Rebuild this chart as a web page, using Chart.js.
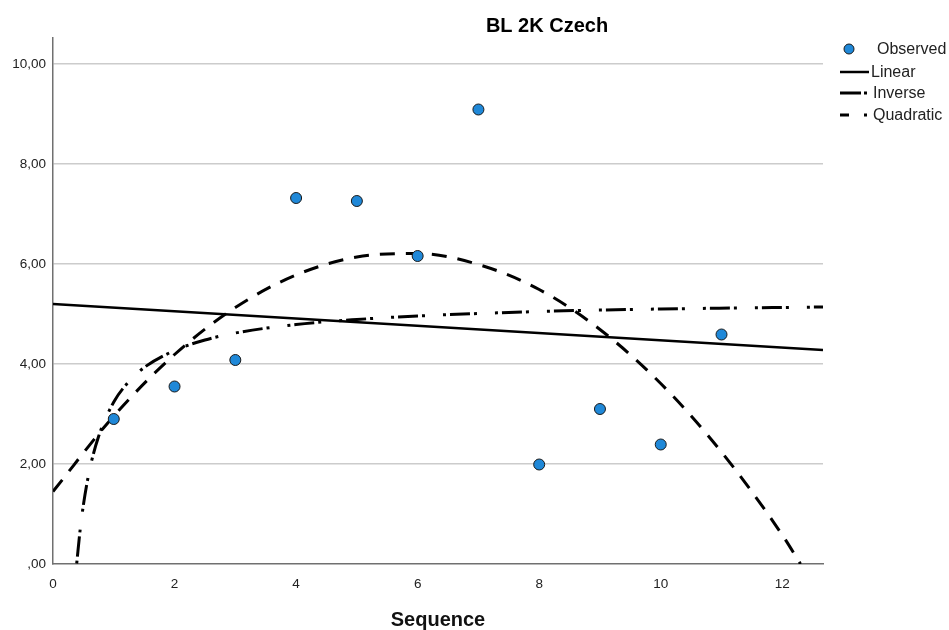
<!DOCTYPE html>
<html>
<head>
<meta charset="utf-8">
<script src="https://cdn.jsdelivr.net/npm/chart.js@4.4.1/dist/chart.umd.min.js"></script>
<style>
  html, body { margin: 0; padding: 0; background: #fff; }
  #wrap { width: 949px; height: 630px; position: relative; }
</style>
</head>
<body>
<div id="wrap"><canvas id="chart"></canvas></div>
<script>
const seqX = [1, 2, 3, 4, 5, 6, 7, 8, 9, 10, 11];
const observedY = [2.90, 3.55, 4.08, 7.32, 7.26, 6.16, 9.09, 1.99, 3.10, 2.39, 4.59];

// fitted curves
const linearX = [0, 12.67];
const linearY = [5.20, 4.28];

const inverseX = [0.39, 0.45, 0.5, 0.6, 0.75, 1, 1.25, 1.5, 2, 2.5, 3, 4, 5, 6, 8, 10, 12.67];
const inverseY = [0.01, 0.72, 1.18, 1.87, 2.55, 3.24, 3.65, 3.93, 4.27, 4.48, 4.62, 4.79, 4.89, 4.96, 5.05, 5.10, 5.14];

const quadX = [0, 1, 2, 3, 4, 5, 6, 7, 8, 9, 10, 11, 12, 12.3];
const quadY = [1.45, 2.96, 4.19, 5.13, 5.78, 6.14, 6.21, 5.99, 5.49, 4.69, 3.61, 2.24, 0.58, 0.0];

// axis ticks
const yTicks = [0, 2, 4, 6, 8, 10];
const yTickLabels = [',00', '2,00', '4,00', '6,00', '8,00', '10,00'];
const xTicks = [0, 2, 4, 6, 8, 10, 12];

const chartTitle = 'BL 2K Czech';
const xTitle = 'Sequence';

const FONT = '"Liberation Sans", Arial, sans-serif';

function pairs(xs, ys) {
    return xs.map((x, i) => ({ x: x, y: ys[i] }));
}

const INVERSE_DASH = [3, 4, 20, 4, 3, 18];
const QUAD_DASH = [15, 11];

// title + legend drawn by hand so they sit where the reference has them
const decorPlugin = {
    id: 'decor',
    afterDraw(chart) {
        const ctx = chart.ctx;
        ctx.save();
        ctx.fillStyle = '#000';
        ctx.font = 'bold 20px ' + FONT;
        ctx.textAlign = 'center';
        ctx.textBaseline = 'middle';
        ctx.fillText(chartTitle, 547, 26);

        const ds = chart.data.datasets;
        ctx.font = '16px ' + FONT;
        ctx.textAlign = 'left';
        const rows = [49, 72, 93, 115];
        ds.forEach((d, i) => {
            const y = rows[i];
            ctx.strokeStyle = '#000';
            if (i === 0) {
                ctx.beginPath();
                ctx.arc(849, y, 5, 0, Math.PI * 2);
                ctx.fillStyle = d.backgroundColor;
                ctx.fill();
                ctx.lineWidth = 1;
                ctx.strokeStyle = d.borderColor;
                ctx.stroke();
            } else if (i === 1) {
                ctx.lineWidth = 2.5;
                ctx.beginPath();
                ctx.moveTo(840, y);
                ctx.lineTo(869, y);
                ctx.stroke();
            } else if (i === 2) {
                ctx.lineWidth = 3;
                ctx.beginPath();
                ctx.moveTo(840, y);
                ctx.lineTo(861, y);
                ctx.moveTo(864, y);
                ctx.lineTo(867, y);
                ctx.stroke();
            } else {
                ctx.lineWidth = 3;
                ctx.beginPath();
                ctx.moveTo(840, y);
                ctx.lineTo(849, y);
                ctx.moveTo(864, y);
                ctx.lineTo(867, y);
                ctx.stroke();
            }
            ctx.fillStyle = '#222';
            ctx.fillText(d.label, i === 0 ? 877 : (i === 1 ? 871 : 873), y + 1);
        });
        ctx.restore();
    }
};

new Chart(document.getElementById('chart'), {
    type: 'scatter',
    data: {
        datasets: [
            {
                label: 'Observed',
                data: pairs(seqX, observedY),
                backgroundColor: '#1f88d8',
                borderColor: '#1a1a1a',
                borderWidth: 1,
                pointRadius: 5.5,
                order: 0
            },
            {
                label: 'Linear',
                type: 'line',
                data: pairs(linearX, linearY),
                borderColor: '#000',
                borderWidth: 2.5,
                pointRadius: 0,
                fill: false,
                order: 3
            },
            {
                label: 'Inverse',
                type: 'line',
                data: pairs(inverseX, inverseY),
                borderColor: '#000',
                borderWidth: 3,
                borderDash: INVERSE_DASH,
                pointRadius: 0,
                fill: false,
                cubicInterpolationMode: 'monotone',
                order: 2
            },
            {
                label: 'Quadratic',
                type: 'line',
                data: pairs(quadX, quadY),
                borderColor: '#000',
                borderWidth: 3,
                borderDash: QUAD_DASH,
                pointRadius: 0,
                fill: false,
                cubicInterpolationMode: 'monotone',
                order: 1
            }
        ]
    },
    options: {
        responsive: true,
        maintainAspectRatio: false,
        animation: false,
        layout: { padding: { top: 38, right: 126, left: 0, bottom: 0 } },
        plugins: {
            legend: { display: false },
            title: { display: false },
            tooltip: { enabled: false }
        },
        scales: {
            x: {
                type: 'linear',
                min: 0,
                max: 12.67,
                afterBuildTicks: (scale) => { scale.ticks = xTicks.map(v => ({ value: v })); },
                afterFit: (scale) => { scale.height = 66; },
                grid: { display: false, drawTicks: false },
                border: { display: true, color: '#707070', width: 1.5 },
                ticks: {
                    padding: 12,
                    color: '#222',
                    font: { family: FONT, size: 13.5 },
                    maxRotation: 0
                },
                title: {
                    display: true,
                    text: xTitle,
                    color: '#111',
                    font: { family: FONT, size: 20, weight: 'bold', lineHeight: 1 },
                    padding: { top: 0, bottom: 0 }
                }
            },
            y: {
                type: 'linear',
                min: 0,
                max: 10.52,
                afterBuildTicks: (scale) => { scale.ticks = yTicks.map(v => ({ value: v })); },
                afterFit: (scale) => { scale.width = 53; },
                grid: {
                    color: (c) => c.tick && c.tick.value === 0 ? 'rgba(0,0,0,0)' : '#cccccc',
                    lineWidth: 1.5,
                    drawTicks: false
                },
                border: { display: true, color: '#707070', width: 1.5 },
                ticks: {
                    padding: 7,
                    color: '#222',
                    font: { family: FONT, size: 13.5 },
                    callback: (v) => {
                        const i = yTicks.indexOf(v);
                        return i >= 0 ? yTickLabels[i] : '';
                    }
                }
            }
        }
    },
    plugins: [decorPlugin]
});
</script>
</body>
</html>
